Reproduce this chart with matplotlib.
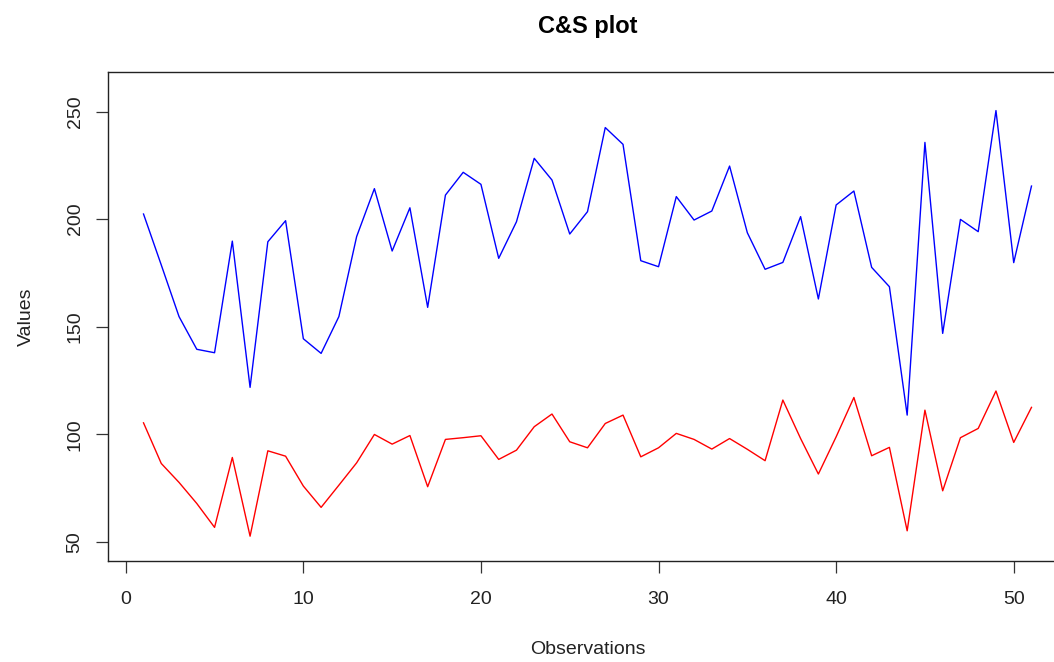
import numpy as np
import matplotlib
matplotlib.use("Agg")
import matplotlib.pyplot as plt

plt.rcParams['font.family'] = ['Liberation Sans', 'DejaVu Sans']

# observation index and the two measured series
obs = np.arange(1, 52)
c_values = [202.4, 178.7, 154.7, 139.5, 137.9, 189.8, 121.8, 189.5, 199.3, 144.4,
            137.6, 154.7, 191.9, 214.2, 185.2, 205.3, 159.0, 211.2, 221.8, 216.2,
            181.8, 198.8, 228.3, 218.2, 193.1, 203.5, 242.6, 234.8, 180.7, 177.9,
            210.5, 199.6, 203.8, 224.7, 193.7, 176.7, 179.9, 201.2, 162.9, 206.6,
            213.1, 177.6, 168.6, 108.9, 235.7, 146.9, 199.9, 194.2, 250.5, 179.8,
            215.4]
s_values = [105.3, 86.4, 77.6, 67.8, 56.7, 89.2, 52.6, 92.3, 89.8, 75.9,
            66.0, 76.3, 86.7, 99.9, 95.4, 99.4, 75.6, 97.6, 98.4, 99.3,
            88.3, 92.6, 103.5, 109.4, 96.5, 93.7, 105.0, 108.9, 89.5, 93.7,
            100.4, 97.6, 93.1, 98.0, 93.0, 87.7, 115.9, 98.0, 81.5, 98.8,
            117.1, 90.0, 93.9, 55.1, 111.2, 73.7, 98.4, 102.7, 120.1, 96.2,
            112.5]
x_ticks = [0, 10, 20, 30, 40, 50]
y_ticks = [50, 100, 150, 200, 250]

W, H = 1054, 662
fig = plt.figure(figsize=(W / 100, H / 100), dpi=100)
# plot box runs past the right edge of the canvas
ax = fig.add_axes([108 / W, 1 - 560.7 / H, 959 / W, (560.7 - 72.3) / H])

ax.plot(obs, c_values, color='#0000FF', lw=1.0)
ax.plot(obs, s_values, color='#FF0000', lw=1.0)

ax.set_xlim(-1, 53)
ax.set_ylim(41.2, 268.3)
ax.set_xticks(x_ticks)
ax.set_yticks(y_ticks)
ax.tick_params(axis='both', direction='out', length=8.6, width=0.9,
               color='#333333', labelsize=14, labelcolor='#222222')
ax.tick_params(axis='x', pad=13)
ax.tick_params(axis='y', pad=9)
plt.setp(ax.get_yticklabels(), rotation=90, va='center')

for sp in ax.spines.values():
    sp.set_linewidth(1.0)
    sp.set_color('#222222')
ax.spines['right'].set_visible(False)

fig.text(587.5 / W, 1 - 26 / H, 'C&S plot', ha='center', va='center',
         fontsize=17, fontweight='bold')
fig.text(587.5 / W, 1 - 650 / H, 'Observations', ha='center', va='center',
         fontsize=14, color='#222222')
fig.text(26 / W, 1 - 316.5 / H, 'Values', ha='center', va='center',
         rotation=90, fontsize=14, color='#222222')

fig.savefig('out.png', dpi=100)
